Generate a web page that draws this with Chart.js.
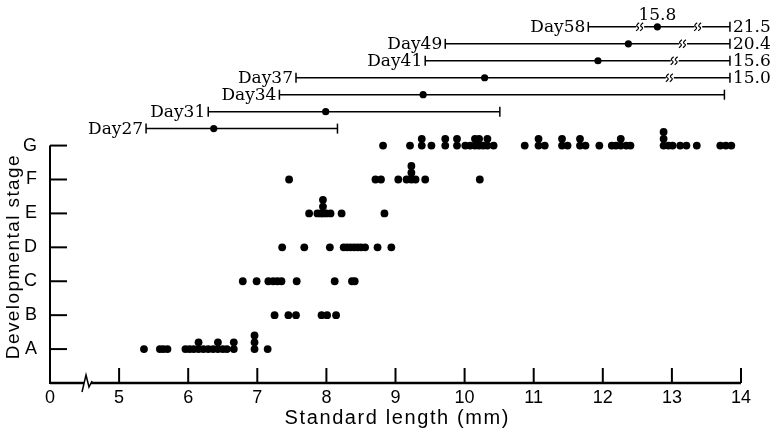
<!DOCTYPE html>
<html>
<head>
<meta charset="utf-8">
<script src="https://cdn.jsdelivr.net/npm/chart.js@4.4.1/dist/chart.umd.min.js"></script>
<style>
  html, body { margin:0; padding:0; background:#fff; }
  #wrap { width:773px; height:433px; position:relative; }
</style>
</head>
<body>
<div id="wrap"><canvas id="stageChart"></canvas></div>
<script>
// stage rows (A..G) — standard length of each fish, repeats are stacked dots
const stageNames = ["A","B","C","D","E","F","G"];
const stageA = [5.36, 5.59, 5.64, 5.70, 5.96, 6.02, 6.08, 6.15, 6.15, 6.22, 6.29, 6.36, 6.43, 6.43, 6.50, 6.56, 6.66, 6.66, 6.96, 6.96, 6.96, 7.15];
const stageB = [7.25, 7.45, 7.56, 7.93, 8.01, 8.14];
const stageC = [6.79, 6.99, 7.16, 7.23, 7.29, 7.35, 7.57, 8.12, 8.37, 8.41];
const stageD = [7.36, 7.68, 8.05, 8.25, 8.30, 8.35, 8.40, 8.45, 8.50, 8.56, 8.74, 8.94];
const stageE = [7.75, 7.87, 7.92, 7.95, 7.95, 7.95, 8.00, 8.06, 8.22, 8.84];
const stageF = [7.46, 8.71, 8.79, 9.04, 9.16, 9.23, 9.23, 9.23, 9.29, 9.43, 10.22];
const stageG = [8.82, 9.21, 9.38, 9.38, 9.52, 9.72, 9.72, 9.89, 9.89, 10.01, 10.08, 10.15, 10.15,
  10.21, 10.21, 10.27, 10.33, 10.33, 10.42, 10.87, 11.07, 11.07, 11.16, 11.41, 11.41, 11.49,
  11.67, 11.67, 11.75, 11.95, 12.13, 12.19, 12.26, 12.26, 12.34, 12.40, 12.88, 12.88, 12.88,
  12.95, 13.01, 13.12, 13.21, 13.36, 13.70, 13.78, 13.86];

// size range per sampling day (min / mean / max, in axis units; broken ones stop short of the axis end)
const days      = ["Day27","Day31","Day34","Day37","Day41","Day49","Day58"];
const dayRow    = [7.5, 8, 8.5, 9, 9.5, 10, 10.5];
const rangeMin  = [5.39, 6.29, 7.32, 7.56, 9.43, 9.72, 11.79];
const rangeMean = [6.37, 7.99, 9.40, 10.29, 11.93, 12.37, 12.79];
const rangeMax  = [8.16, 10.51, 13.76, 13.84, 13.84, 13.84, 13.84];
const rangeBreaks = [[], [], [], [12.97], [13.04], [13.16], [12.54, 13.38]];
const maxText   = ["", "", "", "15.0", "15.6", "20.4", "21.5"];
const meanText  = ["", "", "", "", "", "", "15.8"];

// x axis ticks ("0" sits before the axis break)
const xTickValues = [4, 5, 6, 7, 8, 9, 10, 11, 12, 13, 14];
const xTickLabels = ["0", "5", "6", "7", "8", "9", "10", "11", "12", "13", "14"];
const xBreakAt = 4.55;
const xTitle = "Standard length (mm)";
const yTitle = "Developmental stage";

const STACK = 0.2;
const SANS = '"Liberation Sans", Arial, sans-serif';
const SERIF = '"DejaVu Serif", serif';

function stagePoints(lengths, stage){
  const seen = {};
  return lengths.map(x => {
    const k = x.toFixed(2);
    seen[k] = (seen[k] || 0) + 1;
    return { x, y: stage + (seen[k] - 1) * STACK };
  });
}

const stageRows = [stageA, stageB, stageC, stageD, stageE, stageF, stageG];
const stagePts = stageRows.flatMap((row, i) => stagePoints(row, i + 1));

const rangeSets = days.map((d, i) => ({
  type: "line",
  label: d,
  data: [{ x: rangeMin[i], y: dayRow[i] }, { x: rangeMax[i], y: dayRow[i] }],
  borderColor: "#000",
  borderWidth: 1.5,
  pointStyle: "line",
  rotation: 90,
  pointRadius: 5,
  pointBorderWidth: 1.5,
  pointBorderColor: "#000",
  clip: false
}));

function line(ctx, x1, y1, x2, y2){
  ctx.beginPath(); ctx.moveTo(x1, y1); ctx.lineTo(x2, y2); ctx.stroke();
}

// text with a little extra tracking, centred on cx
function spacedText(ctx, text, cx, y, gap){
  const chars = [...text];
  const widths = chars.map(c => ctx.measureText(c).width);
  const total = widths.reduce((a, b) => a + b, 0) + gap * (chars.length - 1);
  let px = cx - total / 2;
  ctx.textAlign = "left";
  chars.forEach((c, i) => { ctx.fillText(c, px, y); px += widths[i] + gap; });
}

const framePlugin = {
  id: "frame",
  afterDatasetsDraw(chart){
    const { ctx, scales: { x, y } } = chart;
    const x0 = x.getPixelForValue(xTickValues[0]);
    const xEnd = x.getPixelForValue(xTickValues[xTickValues.length - 1]);
    const y0 = y.getPixelForValue(0);
    const yTop = y.getPixelForValue(stageNames.length);
    ctx.save();
    ctx.strokeStyle = "#000";
    ctx.fillStyle = "#000";
    ctx.lineCap = "butt";

    // y axis + inward ticks
    ctx.lineWidth = 2;
    line(ctx, x0, y0 + 1, x0, yTop);
    stageNames.forEach((s, i) => {
      const py = y.getPixelForValue(i + 1);
      line(ctx, x0, py, x0 + 17, py);
    });

    // x axis with break
    const bx = x.getPixelForValue(xBreakAt);
    ctx.lineWidth = 2.5;
    line(ctx, x0, y0, bx - 4, y0);
    line(ctx, bx + 3, y0, xEnd, y0);
    ctx.lineWidth = 1.5;
    ctx.beginPath();
    ctx.moveTo(bx - 6, y0 + 9);
    ctx.lineTo(bx - 2, y0 - 8);
    ctx.lineTo(bx + 1, y0 + 4);
    ctx.lineTo(bx + 4, y0 - 2);
    ctx.stroke();
    ctx.lineWidth = 2;
    xTickValues.slice(1).forEach(v => {
      const px = x.getPixelForValue(v);
      line(ctx, px, y0, px, y0 - 15);
    });

    // axis titles
    ctx.textBaseline = "alphabetic";
    ctx.font = "20px " + SANS;
    spacedText(ctx, xTitle, (x0 + xEnd) / 2 + 1, y0 + 41, 1.6);
    ctx.save();
    ctx.translate(19, (y0 + yTop) / 2 - 7);
    ctx.rotate(-Math.PI / 2);
    ctx.font = "19px " + SANS;
    spacedText(ctx, yTitle, 0, 0, 1.4);
    ctx.restore();

    // day range labels, breaks and end values
    ctx.font = "17px " + SERIF;
    ctx.textBaseline = "alphabetic";
    days.forEach((d, i) => {
      const py = y.getPixelForValue(dayRow[i]);
      const ps = x.getPixelForValue(rangeMin[i]);
      const pe = x.getPixelForValue(rangeMax[i]);
      ctx.textAlign = "right";
      ctx.fillText(d, ps - 3, py + 5);
      if (maxText[i]) { ctx.textAlign = "left"; ctx.fillText(maxText[i], pe + 3, py + 5); }
      if (meanText[i]) {
        ctx.textAlign = "center";
        ctx.fillText(meanText[i], x.getPixelForValue(rangeMean[i]), py - 7);
      }
      ctx.lineWidth = 1.2;
      rangeBreaks[i].forEach(b => {
        const pb = x.getPixelForValue(b);
        ctx.fillStyle = "#fff";
        ctx.fillRect(pb - 4, py - 2, 8, 4);
        ctx.fillStyle = "#000";
        [-2.5, 1.5].forEach(dx => {
          ctx.beginPath();
          ctx.moveTo(pb + dx - 1.5, py + 4);
          ctx.quadraticCurveTo(pb + dx + 2.5, py + 1, pb + dx, py);
          ctx.quadraticCurveTo(pb + dx - 2.5, py - 1, pb + dx + 1.5, py - 4);
          ctx.stroke();
        });
      });
    });
    ctx.restore();
  }
};

Chart.defaults.color = "#000";

new Chart(document.getElementById("stageChart"), {
  type: "scatter",
  data: {
    datasets: [
      {
        label: "stage",
        data: stagePts,
        backgroundColor: "#000",
        borderColor: "#000",
        pointRadius: 3.9,
        borderWidth: 0,
        clip: false
      },
      ...rangeSets,
      {
        label: "mean",
        data: days.map((d, i) => ({ x: rangeMean[i], y: dayRow[i] })),
        backgroundColor: "#000",
        borderColor: "#000",
        pointRadius: 3.6,
        borderWidth: 0,
        clip: false
      }
    ]
  },
  options: {
    responsive: true,
    maintainAspectRatio: false,
    animation: false,
    layout: { padding: { left: 0, right: 32, top: 0, bottom: 0 } },
    plugins: { legend: { display: false }, tooltip: { enabled: false } },
    scales: {
      x: {
        type: "linear",
        min: xTickValues[0],
        max: xTickValues[xTickValues.length - 1],
        afterBuildTicks: (s) => { s.ticks = xTickValues.map(value => ({ value })); },
        afterFit: (s) => { s.height = 50; s.paddingLeft = 0; s.paddingRight = 0; },
        grid: { display: false, drawTicks: false },
        border: { display: false },
        ticks: {
          autoSkip: false, maxRotation: 0, padding: 4,
          font: { family: SANS, size: 18 },
          callback: (v, i) => xTickLabels[i]
        }
      },
      y: {
        type: "linear",
        min: 0,
        max: 11.1,
        afterBuildTicks: (s) => { s.ticks = stageNames.map((n, i) => ({ value: i + 1 })); },
        afterFit: (s) => { s.width = 50; s.paddingTop = 0; s.paddingBottom = 0; },
        grid: { display: false, drawTicks: false },
        border: { display: false },
        ticks: {
          autoSkip: false, padding: 13,
          font: { family: SANS, size: 18 },
          callback: (v, i) => stageNames[i]
        }
      }
    }
  },
  plugins: [framePlugin]
});
</script>
</body>
</html>
